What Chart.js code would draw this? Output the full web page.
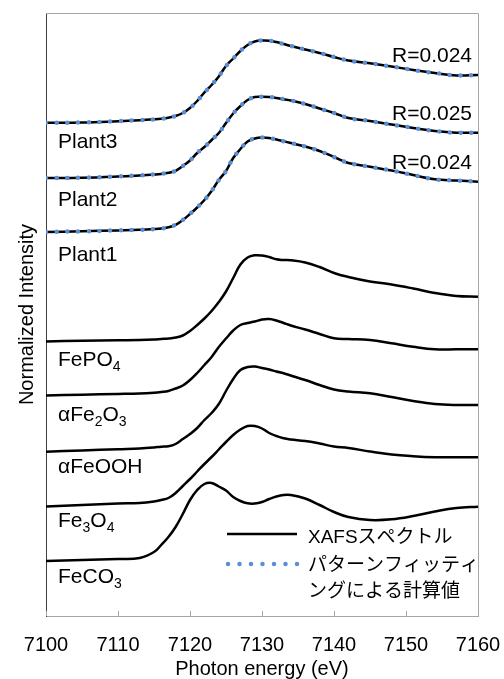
<!DOCTYPE html>
<html>
<head>
<meta charset="utf-8">
<script src="https://cdn.jsdelivr.net/npm/chart.js@4.4.1/dist/chart.umd.min.js"></script>
<style>
  html, body { margin: 0; padding: 0; background: #fff; }
</style>
</head>
<body>
<canvas id="chart" width="504" height="679"></canvas>
<script>
"use strict";

// photon energy grid (eV)
const energies = [7100, 7105, 7110, 7113, 7115, 7116, 7117, 7118, 7119, 7120, 7121, 7122, 7123, 7124, 7125, 7126, 7127,
  7128, 7129, 7130, 7131, 7132, 7133, 7134, 7136, 7138, 7140, 7142, 7145, 7148, 7151, 7154, 7157, 7160];

// normalized intensity, already stacked with the offsets used in the figure
const plant3 = [4.933, 4.935, 4.948, 4.958, 4.967, 4.973, 4.983, 5.00, 5.03, 5.08, 5.15, 5.235, 5.31, 5.395, 5.50, 5.575, 5.65,
  5.71, 5.745, 5.755, 5.753, 5.74, 5.72, 5.70, 5.665, 5.63, 5.59, 5.555, 5.527, 5.495, 5.46, 5.43, 5.405, 5.41];
const plant2 = [4.38, 4.383, 4.395, 4.406, 4.415, 4.421, 4.432, 4.452, 4.50, 4.555, 4.63, 4.69, 4.76, 4.83, 4.93, 5.025, 5.10,
  5.16, 5.19, 5.193, 5.19, 5.18, 5.167, 5.155, 5.12, 5.075, 5.03, 4.98, 4.95, 4.915, 4.88, 4.85, 4.833, 4.833];
const plant1 = [3.84, 3.847, 3.856, 3.862, 3.869, 3.875, 3.888, 3.912, 3.96, 4.02, 4.085, 4.16, 4.25, 4.36, 4.45, 4.58, 4.67,
  4.745, 4.775, 4.785, 4.78, 4.765, 4.747, 4.73, 4.695, 4.65, 4.59, 4.53, 4.493, 4.455, 4.41, 4.367, 4.355, 4.343];
const fePO4 = [2.745, 2.753, 2.757, 2.759, 2.764, 2.77, 2.775, 2.785, 2.805, 2.85, 2.91, 2.975, 3.05, 3.14, 3.245, 3.38, 3.515,
  3.585, 3.607, 3.605, 3.59, 3.567, 3.56, 3.557, 3.535, 3.49, 3.43, 3.39, 3.345, 3.315, 3.275, 3.23, 3.20, 3.193];
const aFe2O3 = [2.205, 2.213, 2.22, 2.225, 2.233, 2.24, 2.25, 2.275, 2.305, 2.36, 2.43, 2.51, 2.59, 2.69, 2.775, 2.855, 2.91,
  2.93, 2.945, 2.965, 2.97, 2.955, 2.93, 2.905, 2.865, 2.82, 2.777, 2.77, 2.76, 2.727, 2.693, 2.668, 2.667, 2.667];
const aFeOOH = [1.643, 1.655, 1.668, 1.675, 1.685, 1.693, 1.697, 1.72, 1.77, 1.82, 1.88, 1.96, 2.03, 2.12, 2.25, 2.37, 2.46,
  2.49, 2.495, 2.48, 2.465, 2.445, 2.427, 2.405, 2.36, 2.31, 2.265, 2.245, 2.227, 2.19, 2.15, 2.12, 2.11, 2.11];
const fe3O4 = [1.095, 1.11, 1.125, 1.13, 1.145, 1.16, 1.18, 1.23, 1.30, 1.37, 1.445, 1.52, 1.59, 1.665, 1.74, 1.81, 1.865,
  1.90, 1.90, 1.875, 1.83, 1.80, 1.777, 1.765, 1.75, 1.725, 1.695, 1.68, 1.645, 1.615, 1.598, 1.588, 1.587, 1.587];
const feCO3 = [0.55, 0.56, 0.57, 0.58, 0.64, 0.71, 0.79, 0.89, 1.02, 1.16, 1.26, 1.32, 1.33, 1.295, 1.255, 1.19, 1.15,
  1.127, 1.125, 1.14, 1.17, 1.195, 1.21, 1.21, 1.175, 1.11, 1.04, 0.99, 0.96, 0.967, 1.00, 1.045, 1.08, 1.093];

// pattern fitting results (lie on top of the measured spectra)
const plant3Fit = [4.933, 4.935, 4.948, 4.958, 4.967, 4.973, 4.983, 5.00, 5.03, 5.08, 5.15, 5.235, 5.31, 5.395, 5.50, 5.575, 5.65,
  5.71, 5.745, 5.755, 5.753, 5.74, 5.72, 5.70, 5.665, 5.63, 5.59, 5.555, 5.527, 5.495, 5.46, 5.43, 5.405, 5.41];
const plant2Fit = [4.38, 4.383, 4.395, 4.406, 4.415, 4.421, 4.432, 4.452, 4.50, 4.555, 4.63, 4.69, 4.76, 4.83, 4.93, 5.025, 5.10,
  5.16, 5.19, 5.193, 5.19, 5.18, 5.167, 5.155, 5.12, 5.075, 5.03, 4.98, 4.95, 4.915, 4.88, 4.85, 4.833, 4.833];
const plant1Fit = [3.84, 3.847, 3.856, 3.862, 3.869, 3.875, 3.888, 3.912, 3.96, 4.02, 4.085, 4.16, 4.25, 4.36, 4.45, 4.58, 4.67,
  4.745, 4.775, 4.785, 4.78, 4.765, 4.747, 4.73, 4.695, 4.65, 4.59, 4.53, 4.493, 4.455, 4.41, 4.367, 4.355, 4.343];

const sampleNames = ['Plant3', 'Plant2', 'Plant1', 'FePO_4', 'αFe_2O_3', 'αFeOOH', 'Fe_3O_4', 'FeCO_3'];
const rFactors = ['R=0.024', 'R=0.025', 'R=0.024'];
const legendLabels = ['XAFSスペクトル', 'パターンフィッティ', 'ングによる計算値'];

const spectra = [plant3, plant2, plant1, fePO4, aFe2O3, aFeOOH, fe3O4, feCO3];
const fits = [plant3Fit, plant2Fit, plant1Fit];

const FONT = "'Liberation Sans', 'Noto Sans CJK JP', sans-serif";
const FIT_BLUE = '#5a8fd8';
const FRAME_GRAY = '#a6a6a6';

Chart.defaults.font.family = FONT;
Chart.defaults.color = '#000';

function toPoints(values) {
  return energies.map((e, i) => ({ x: e, y: values[i] }));
}

const datasets = [];
fits.forEach((values, i) => {
  datasets.push({
    label: sampleNames[i] + ' fit',
    data: toPoints(values),
    borderColor: FIT_BLUE,
    borderWidth: 4.5,
    borderDash: [0, 10.7],
    borderCapStyle: 'round',
    pointRadius: 0,
    tension: 0.4,
    order: 0,
  });
});
spectra.forEach((values, i) => {
  datasets.push({
    label: sampleNames[i],
    data: toPoints(values),
    borderColor: '#000',
    borderWidth: 2.5,
    pointRadius: 0,
    tension: 0.4,
    order: 1,
  });
});

// draws "FePO_4" style text with subscripts
function drawRich(ctx, text, x, y, size) {
  const parts = text.split(/(_\d)/).filter(p => p.length);
  let cx = x;
  parts.forEach(p => {
    if (p[0] === '_') {
      ctx.font = Math.round(size * 0.68) + 'px ' + FONT;
      ctx.fillText(p.slice(1), cx, y + size * 0.26);
      cx += ctx.measureText(p.slice(1)).width;
    } else {
      ctx.font = size + 'px ' + FONT;
      ctx.fillText(p, cx, y);
      cx += ctx.measureText(p).width;
    }
  });
}

// label offsets below each spectrum's first point (px)
const labelDrop = [25, 28, 29, 24.5, 25.5, 21.5, 20.5, 22];

const decorations = {
  id: 'decorations',
  afterLayout(chart) {
    // keep the plot frame where the original figure has it
    const a = chart.chartArea;
    a.right = 478;
    a.width = a.right - a.left;
    chart.scales.x.right = a.right;
    chart.scales.x.width = a.right - chart.scales.x.left;
    chart.scales.x.configure();
  },
  afterDatasetsDraw(chart) {
    const { ctx, chartArea: a, scales: { x, y } } = chart;
    ctx.save();

    // top and right frame
    ctx.strokeStyle = FRAME_GRAY;
    ctx.lineWidth = 1;
    ctx.beginPath();
    ctx.moveTo(a.left, a.top + 0.5);
    ctx.lineTo(a.right + 0.5, a.top + 0.5);
    ctx.lineTo(a.right + 0.5, a.bottom);
    ctx.stroke();

    // tick marks pointing inward
    ctx.beginPath();
    x.ticks.forEach(t => {
      const px = Math.round(x.getPixelForValue(t.value)) + 0.5;
      ctx.moveTo(px, a.bottom);
      ctx.lineTo(px, a.bottom - 5);
    });
    ctx.stroke();

    // sample names
    ctx.fillStyle = '#000';
    ctx.textAlign = 'left';
    ctx.textBaseline = 'alphabetic';
    spectra.forEach((values, i) => {
      const py = y.getPixelForValue(values[0]) + labelDrop[i];
      drawRich(ctx, sampleNames[i], a.left + 12, py, 21);
    });

    // R factors
    ctx.font = '21px ' + FONT;
    ctx.textAlign = 'right';
    fits.forEach((values, i) => {
      const py = y.getPixelForValue(values[values.length - 1]) - 13;
      ctx.fillText(rFactors[i], a.right - 6, py);
    });

    // legend
    const sx0 = a.right - 251, sx1 = a.right - 181;
    ctx.strokeStyle = '#000';
    ctx.lineWidth = 2.5;
    ctx.beginPath();
    ctx.moveTo(sx0, a.bottom - 82);
    ctx.lineTo(sx1, a.bottom - 82);
    ctx.stroke();

    ctx.strokeStyle = FIT_BLUE;
    ctx.lineWidth = 4.5;
    ctx.lineCap = 'round';
    ctx.setLineDash([0, 11.5]);
    ctx.beginPath();
    ctx.moveTo(sx0 + 1, a.bottom - 52);
    ctx.lineTo(sx1 + 1, a.bottom - 52);
    ctx.stroke();
    ctx.setLineDash([]);

    ctx.font = '19px ' + FONT;
    ctx.textAlign = 'left';
    ctx.textBaseline = 'middle';
    ctx.fillText(legendLabels[0], sx1 + 11, a.bottom - 78);
    ctx.fillText(legendLabels[1], sx1 + 11, a.bottom - 50);
    ctx.fillText(legendLabels[2], sx1 + 11, a.bottom - 24);

    ctx.restore();
  }
};

new Chart(document.getElementById('chart'), {
  type: 'line',
  data: { datasets: datasets },
  options: {
    responsive: false,
    animation: false,
    devicePixelRatio: 1,
    layout: { padding: { left: 0, right: 26, top: 13, bottom: 0 } },
    plugins: {
      legend: { display: false },
      tooltip: { enabled: false },
    },
    scales: {
      x: {
        type: 'linear',
        min: 7100,
        max: 7160,
        ticks: {
          stepSize: 10,
          font: { size: 20 },
          color: '#000',
          padding: 9,
          maxRotation: 0,
          callback: v => String(v),
        },
        grid: { display: false },
        border: { display: true, color: FRAME_GRAY, width: 1 },
        title: {
          display: true,
          text: 'Photon energy (eV)',
          font: { size: 20, lineHeight: 1 },
          color: '#000',
          padding: { top: 0, bottom: 0 },
        },
        afterFit: s => { s.height = 63; },
      },
      y: {
        min: 0,
        max: 6.03,
        ticks: { display: false },
        grid: { display: false },
        border: { display: true, color: '#404040', width: 1 },
        title: {
          display: true,
          text: 'Normalized Intensity',
          font: { size: 20 },
          color: '#000',
          padding: { top: 15, bottom: 0 },
        },
        afterFit: s => { s.width = 46; },
      },
    },
  },
  plugins: [decorations],
});
</script>
</body>
</html>
